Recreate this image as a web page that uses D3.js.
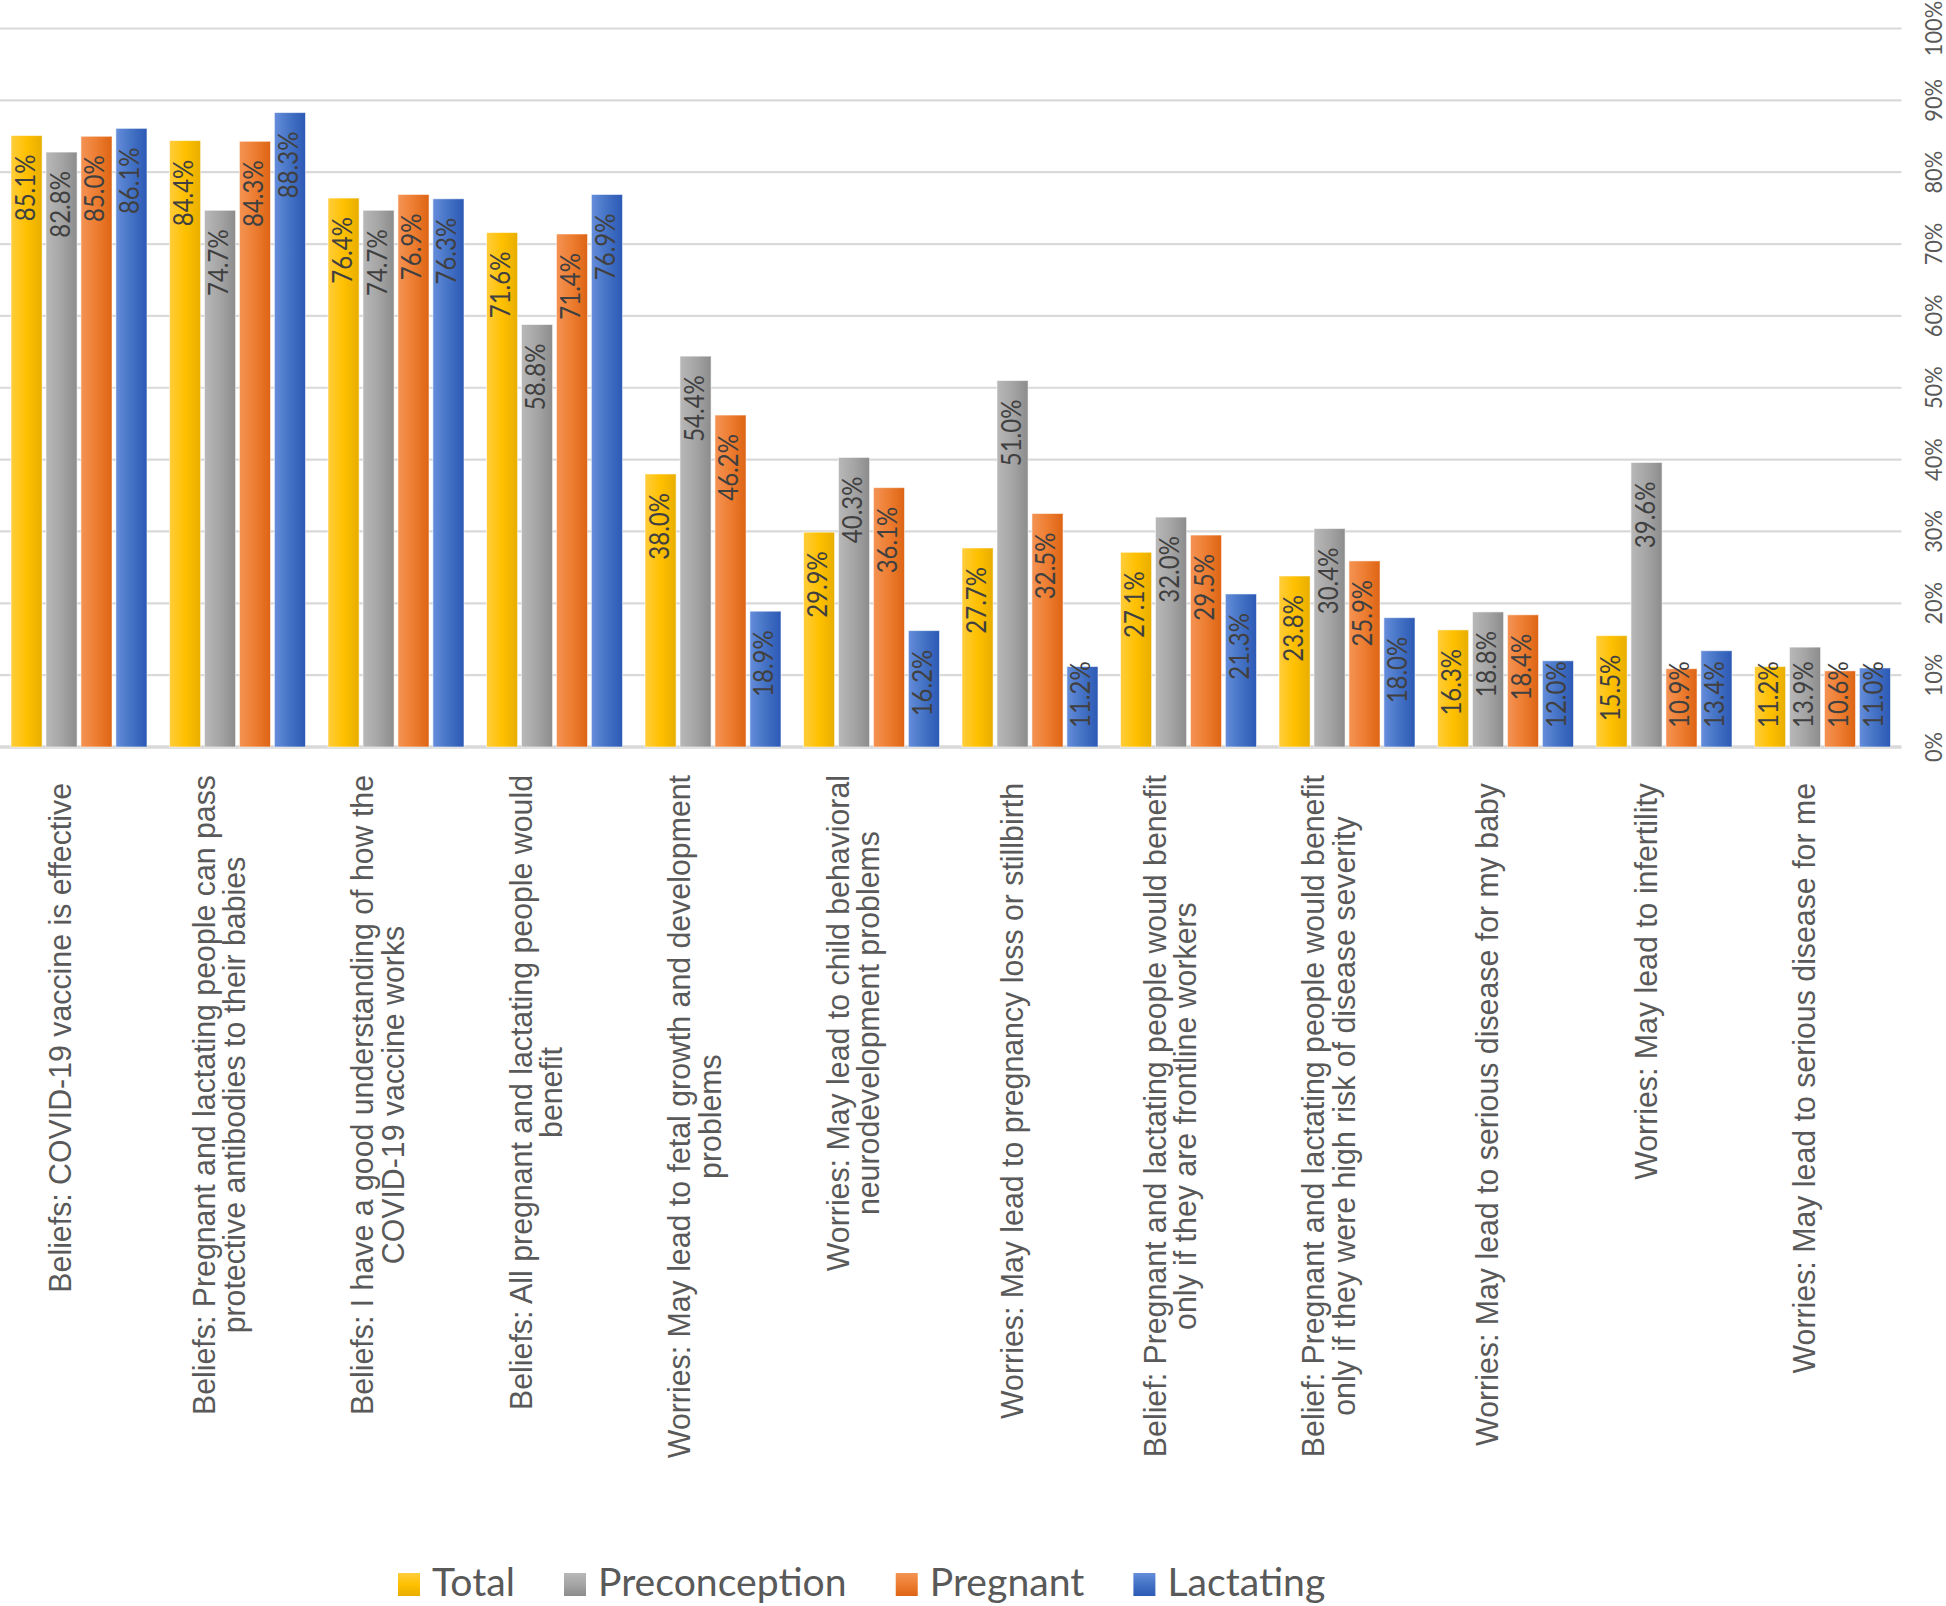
<!DOCTYPE html>
<html>
<head>
<meta charset="utf-8">
<script src="https://cdn.jsdelivr.net/npm/d3@7"></script>
<style>
  html, body { margin: 0; padding: 0; background: #fff; }
  svg { display: block; }
</style>
</head>
<body>
<svg id="chart" width="1946" height="1606"></svg>
<script>
// ---------------- DATA ----------------
const categories = [
  ["Beliefs: COVID-19 vaccine is effective"],
  ["Beliefs: Pregnant and lactating people can pass", "protective antibodies to their babies"],
  ["Beliefs: I have a good understanding of how the", "COVID-19 vaccine works"],
  ["Beliefs: All pregnant and lactating people would", "benefit"],
  ["Worries: May lead to fetal growth and development", "problems"],
  ["Worries: May lead to child behavioral", "neurodevelopment problems"],
  ["Worries: May lead to pregnancy loss or stillbirth"],
  ["Belief: Pregnant and lactating people would benefit", "only if they are frontline workers"],
  ["Belief: Pregnant and lactating people would benefit", "only if they were high risk of disease severity"],
  ["Worries: May lead to serious disease for my baby"],
  ["Worries: May lead to infertility"],
  ["Worries: May lead to serious disease for me"]
];
const seriesNames = ["Total", "Preconception", "Pregnant", "Lactating"];
const total         = [85.1, 84.4, 76.4, 71.6, 38.0, 29.9, 27.7, 27.1, 23.8, 16.3, 15.5, 11.2];
const preconception = [82.8, 74.7, 74.7, 58.8, 54.4, 40.3, 51.0, 32.0, 30.4, 18.8, 39.6, 13.9];
const pregnant      = [85.0, 84.3, 76.9, 71.4, 46.2, 36.1, 32.5, 29.5, 25.9, 18.4, 10.9, 10.6];
const lactating     = [86.1, 88.3, 76.3, 76.9, 18.9, 16.2, 11.2, 21.3, 18.0, 12.0, 13.4, 11.0];
const yTicks = [0, 10, 20, 30, 40, 50, 60, 70, 80, 90, 100];

// ---------------- STYLE ----------------
const colors = [
  { light: "#FFCD3C", base: "#FFC000", dark: "#E8AE00" },
  { light: "#B8B8B8", base: "#A5A5A5", dark: "#8C8C8C" },
  { light: "#F49354", base: "#ED7D31", dark: "#DD6414" },
  { light: "#658DDB", base: "#4472C4", dark: "#2C59B5" }
];
const seriesValues = [total, preconception, pregnant, lactating];

const svg = d3.select("#chart");
const defs = svg.append("defs");
colors.forEach((c, i) => {
  const g = defs.append("linearGradient").attr("id", "gh" + i)
    .attr("x1", "0%").attr("x2", "100%").attr("y1", "0%").attr("y2", "0%");
  g.append("stop").attr("offset", "0%").attr("stop-color", c.light);
  g.append("stop").attr("offset", "50%").attr("stop-color", c.base);
  g.append("stop").attr("offset", "100%").attr("stop-color", c.dark);
  const v = defs.append("linearGradient").attr("id", "gv" + i)
    .attr("x1", "0%").attr("x2", "0%").attr("y1", "0%").attr("y2", "100%");
  v.append("stop").attr("offset", "0%").attr("stop-color", c.light);
  v.append("stop").attr("offset", "50%").attr("stop-color", c.base);
  v.append("stop").attr("offset", "100%").attr("stop-color", c.dark);
});

const plotLeft = 0, plotRight = 1901.5;
const yBase = 747, yTop = 28.5;

const x0 = d3.scaleBand().domain(d3.range(categories.length))
  .range([plotLeft, plotRight]).paddingInner(0.142).paddingOuter(0.0694);
const x1 = d3.scaleBand().domain(d3.range(seriesNames.length))
  .range([0, x0.bandwidth()]).paddingInner(0.11).paddingOuter(0);
const y = d3.scaleLinear().domain([0, 100]).range([yBase, yTop]);

// gridlines
svg.append("g").selectAll("line").data(yTicks).join("line")
  .attr("x1", plotLeft).attr("x2", plotRight)
  .attr("y1", d => y(d)).attr("y2", d => y(d))
  .attr("stroke", "#d9d9d9")
  .attr("stroke-width", d => d === 0 ? 3.5 : 2.2);

function measure(text, font, size) {
  const t = svg.append("text").attr("font-family", font).attr("font-size", size).text(text);
  const w = t.node().getComputedTextLength();
  t.remove();
  return w;
}

const numFont = "Lato, 'Open Sans', sans-serif";
const lblFS = 26.5;
const lblScale = 66.7 / measure("85.1%", numFont, lblFS);

// bars + data labels
const barG = svg.append("g");
const labelG = svg.append("g");
categories.forEach((cat, ci) => {
  seriesValues.forEach((vals, si) => {
    const v = vals[ci];
    const bx = x0(ci) + x1(si);
    const bw = x1.bandwidth();
    barG.append("rect")
      .attr("x", bx).attr("y", y(v))
      .attr("width", bw).attr("height", yBase - y(v))
      .attr("fill", `url(#gh${si})`)
      .attr("stroke", "rgba(255,255,255,0.55)").attr("stroke-width", 1);

    const txt = v.toFixed(1) + "%";
    const L = measure(txt, numFont, lblFS) * lblScale;
    const startY = Math.min(y(v) + 19 + L, yBase - 19);
    const cx = bx + bw / 2 + 8;
    labelG.append("text")
      .attr("font-family", numFont).attr("font-size", lblFS)
      .attr("fill", "#404040")
      .attr("text-anchor", "start")
      .attr("transform", `translate(${cx},${startY}) rotate(-90) scale(${lblScale},1)`)
      .text(txt);
  });
});

// right axis tick labels
const axFS = 24;
svg.append("g").selectAll("text").data(yTicks).join("text")
  .attr("font-family", numFont).attr("font-size", axFS)
  .attr("fill", "#595959").attr("text-anchor", "middle")
  .attr("transform", d => `translate(1942,${y(d)}) rotate(-90) scale(${lblScale},1)`)
  .text(d => d + "%");

// category labels
const catFont = "'Liberation Sans', Arial, sans-serif";
const catFS = 30.3;
const perp = 1.06;
const capH = 23, pitch = 30.7;
const catG = svg.append("g");
categories.forEach((lines, ci) => {
  const n = lines.length;
  const bc = x0(ci) + x0.bandwidth() / 2;
  const bx = bc - 19 + capH / 2 - (n - 1) * pitch / 2;
  const topY = n === 1 ? 783 : 775;
  const maxLen = d3.max(lines, l => measure(l, catFont, catFS));
  const g = catG.append("g")
    .attr("transform", `translate(${bx},${topY}) rotate(-90) scale(1,${perp})`);
  lines.forEach((l, li) => {
    g.append("text")
      .attr("font-family", catFont).attr("font-size", catFS)
      .attr("fill", "#595959").attr("text-anchor", "middle")
      .attr("x", -maxLen / 2).attr("y", li * pitch / perp)
      .text(l);
  });
});

// legend
const legFS = 39;
const legScale = 83 / measure("Total", numFont, legFS);
const legBase = 1596;
const leg = svg.append("g");
let cursor = 398;
seriesNames.forEach((name, si) => {
  leg.append("rect").attr("x", cursor).attr("y", legBase - 23)
    .attr("width", 22).attr("height", 23)
    .attr("fill", `url(#gv${si})`);
  const tx = cursor + 34;
  leg.append("text")
    .attr("font-family", numFont).attr("font-size", legFS)
    .attr("fill", "#595959")
    .attr("transform", `translate(${tx},${legBase}) scale(${legScale},1)`)
    .text(name);
  const w = measure(name, numFont, legFS) * legScale;
  cursor = tx + w + 49;
});
</script>
</body>
</html>
